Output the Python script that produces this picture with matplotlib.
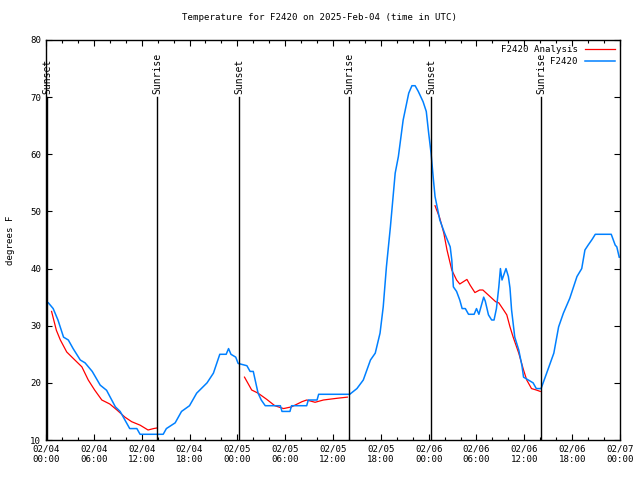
"""
Temperature trace for station F2420 with analysis overlay and sun events.
"""

import numpy as np
import matplotlib
matplotlib.use("Agg")
import matplotlib.pyplot as plt
from matplotlib.ticker import MultipleLocator

# hours since 2025-02-04 00:00 UTC
obs_hours = [0.3, 0.9, 1.5, 2.2, 2.8, 3.4, 4.3, 4.9, 5.8, 6.8, 7.6, 8.7, 9.3, 9.9,
             10.5, 11.4, 11.8, 14.7, 15.1, 16.2, 17.0, 18.0, 18.9, 20.2, 21.0,
             21.8, 22.6, 22.9, 23.2, 23.8, 24.1, 25.2, 25.6, 26.0, 26.6, 27.0,
             27.5, 29.4, 29.6, 30.6, 30.8, 32.7, 32.9, 34.0, 34.2, 38.1, 39.0,
             39.8, 40.7, 41.3, 41.9, 42.3, 42.7, 43.2, 43.5, 43.8, 44.2, 44.8,
             45.5, 45.9, 46.3, 46.7, 47.3, 47.7, 48.0, 48.3, 48.6, 48.8, 49.4,
             50.0, 50.7, 50.9, 51.1, 51.5, 51.9, 52.2, 52.6, 53.0, 53.7, 54.0,
             54.3, 54.9, 55.1, 55.5, 55.9, 56.2, 56.5, 56.8, 57.0, 57.2, 57.4,
             57.7, 58.0, 58.2, 58.4, 58.8, 59.3, 59.7, 59.9, 60.5, 61.1, 61.5,
             62.1, 62.8, 63.7, 64.3, 64.9, 65.7, 66.6, 67.2, 67.6, 68.0, 68.5,
             68.9, 70.9, 71.4, 71.6, 71.9]
obs_temps = [34, 33, 31, 28, 27.5, 26, 24, 23.5, 22, 19.6, 18.7, 15.8, 15, 13.5,
             12, 12, 11, 11, 12, 13, 15, 16, 18.2, 20, 21.7,
             25, 25, 26, 25, 24.5, 23.4, 23, 22, 22, 18.2, 17,
             16, 16, 15, 15, 16, 16, 17, 17, 18, 18, 19,
             20.5, 24, 25.2, 28.7, 33.3, 40.3, 47.3, 52, 56.7, 59.6, 66,
             70.7, 72, 72, 71, 69.2, 67.5, 63.7, 60.2, 55.5, 52.6, 48.5,
             46.2, 43.8, 41.5, 36.8, 36, 34.5, 33, 33, 32, 32, 33,
             32, 35, 34.3, 31.9, 31, 31, 33, 36.8, 40, 38, 38.8,
             40, 38.6, 36.6, 32.75, 28, 25.75, 23, 21, 20.5, 20, 19,
             19, 21.7, 25.2, 29.8, 32.2, 34.8, 38.6, 40, 43.25, 44.1, 45.1,
             46, 46, 44.1, 43.8, 42]

# analysis, NaN between the three night segments
ana_hours = [0.7, 1.3, 1.8, 2.6, 3.4, 4.5, 5.3, 6.1, 7.0, 8.0, 8.9, 9.9, 10.75,
             11.8, 12.8, 13.5, 13.9, np.nan,
             24.9, 25.8, 26.6, 27.7, 28.7, 29.8, 30.8, 32.1, 32.7, 33.75, 34.8,
             36.5, 37.8, np.nan,
             48.8, 49.4, 49.9, 50.3, 50.9, 51.5, 51.9, 52.8, 53.2, 53.8, 54.4,
             54.8, 55.7, 56.4, 56.8, 57.4, 57.8, 58.2, 58.6, 59.3, 59.9, 60.3,
             60.9, 61.5, 62.0]
ana_temps = [32.5, 29.2, 27.5, 25.4, 24.3, 22.8, 20.5, 18.75, 17, 16.3, 15.25, 14,
             13.2, 12.6, 11.75, 12, 12.1, np.nan,
             21, 18.75, 18.2, 17.1, 16, 15.5, 15.8, 16.7, 17, 16.6, 17,
             17.3, 17.5, np.nan,
             51, 48.8, 46.2, 43.25, 39.75, 38, 37.3, 38.1, 37.1, 35.8, 36.25,
             36.25, 35.1, 34.2, 34, 32.75, 31.9, 29.8, 28, 25.2, 22.25, 20.5,
             19, 18.75, 18.5]

sun_hours = [0.12, 13.92, 24.2, 38.0, 48.3, 62.1]
sun_labels = ["Sunset", "Sunrise", "Sunset", "Sunrise", "Sunset", "Sunrise"]

tick_hours = list(range(0, 73, 6))
tick_labels = ["02/04\n00:00", "02/04\n06:00", "02/04\n12:00", "02/04\n18:00",
               "02/05\n00:00", "02/05\n06:00", "02/05\n12:00", "02/05\n18:00",
               "02/06\n00:00", "02/06\n06:00", "02/06\n12:00", "02/06\n18:00",
               "02/07\n00:00"]

FONT = "DejaVu Sans Mono"
FS = 6.6


def main():
    plt.rcParams["font.family"] = FONT
    fig = plt.figure(figsize=(6.4, 4.8), dpi=100)
    ax = fig.add_axes([46 / 640, 40 / 480, 574 / 640, 400 / 480])

    ax.plot(ana_hours, ana_temps, color="#ff0000", lw=0.9, label="F2420 Analysis")
    ax.plot(obs_hours, obs_temps, color="#0080ff", lw=1.1, label="F2420")

    for h, lab in zip(sun_hours, sun_labels):
        ax.plot([h, h], [10, 70], color="black", lw=1.0)
        ax.text(h, 70.6, lab, rotation=90, ha="center", va="bottom", fontsize=7)

    ax.set_xlim(0, 72)
    ax.set_ylim(10, 80)
    ax.set_xticks(tick_hours)
    ax.set_xticklabels(tick_labels)
    ax.xaxis.set_minor_locator(MultipleLocator(2))
    ax.yaxis.set_major_locator(MultipleLocator(10))
    ax.tick_params(which="both", direction="in", top=True, right=True, labelsize=FS)
    ax.tick_params(which="major", length=4, width=0.8)
    ax.tick_params(which="minor", length=2.5, width=0.8)
    for s in ax.spines.values():
        s.set_linewidth(1.0)

    ax.set_ylabel("degrees F", fontsize=FS, labelpad=11)
    fig.text(0.5, 1 - 18 / 480, "Temperature for F2420 on 2025-Feb-04 (time in UTC)",
             ha="center", va="center", fontsize=FS)
    ax.legend(loc="upper right", frameon=False, markerfirst=False, fontsize=FS,
              handlelength=3.2, borderaxespad=0.2, labelspacing=0.3)

    fig.savefig("out.png", dpi=100)


if __name__ == "__main__":
    main()
